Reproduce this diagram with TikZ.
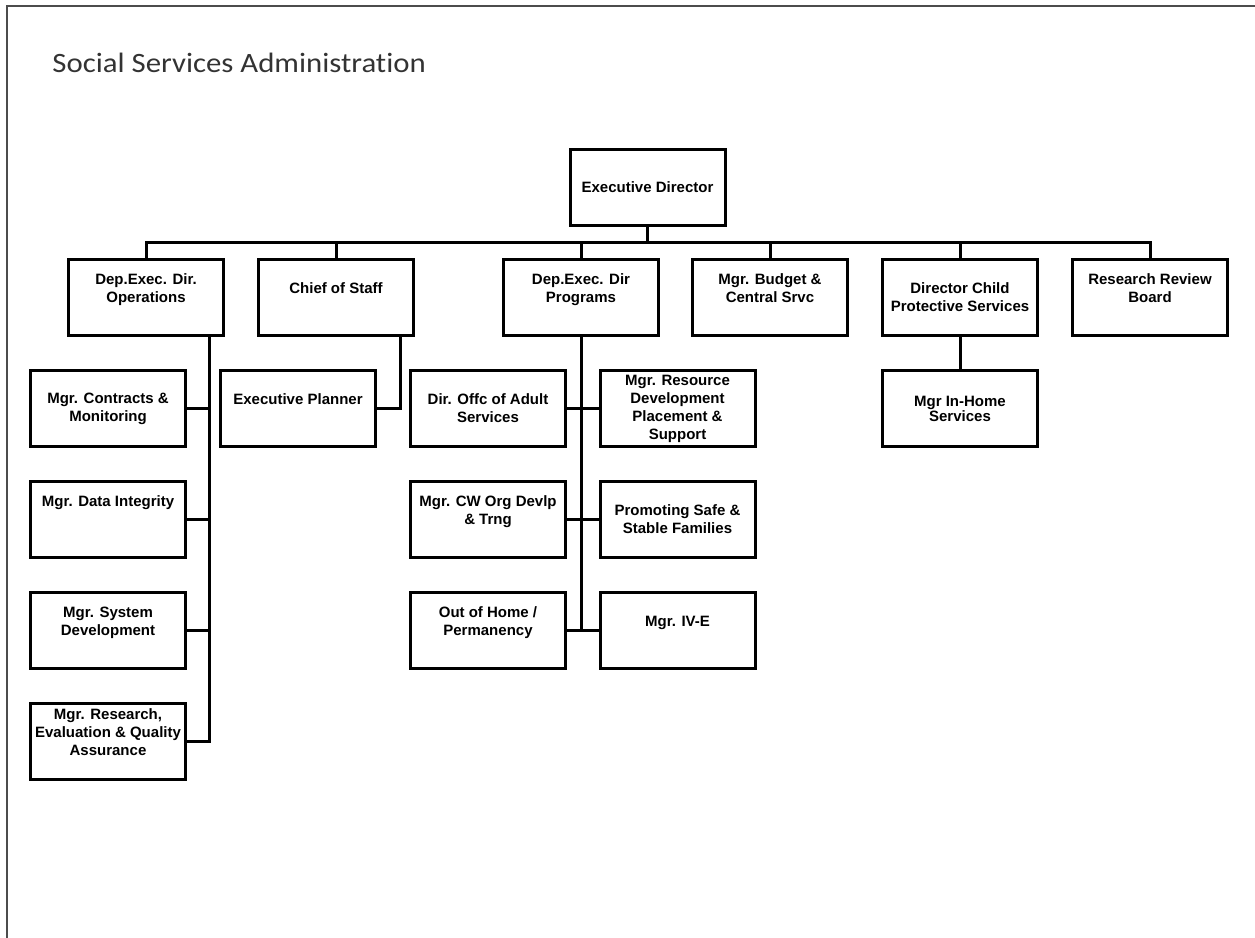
\documentclass[tikz,border=0pt]{standalone}
\usepackage{fontspec}
\setmainfont{Liberation Sans}
\newfontfamily\titlefont[FakeStretch=1.1,Ligatures=NoCommon]{Carlito}
\usetikzlibrary{positioning}
\tikzstyle{box} = [draw, line width=1.5pt, minimum width=77.5pt, minimum height=38pt, inner sep=1pt, align=center, font=\bfseries\fontsize{7.5}{9}\selectfont]
\tikzstyle{link} = [line width=1.5pt]
\def\blank{\\\mbox{}}

\begin{document}
\begin{tikzpicture}[x=0.5pt,y=-0.5pt,node distance=16pt]
\useasboundingbox (0,0) rectangle (1255,938);
\draw[black!70, line width=1pt] (7,938) -- (7,6) -- (1255,6);
\node[anchor=base west, inner sep=0pt, font=\titlefont\fontsize{14}{16}\selectfont, text=black!80] (title) at (52,72) {Social Services Administration};
% top levels
\node[box] (exec) at (647.5,187.5) {Executive Director};
\node[box] (ops) at (146,297.5) {Dep.Exec. Dir.\\Operations\blank};
\node[box] (chief) at (336,297.5) {Chief of Staff\blank};
\node[box] (prog) at (581,297.5) {Dep.Exec. Dir\\Programs\blank};
\node[box] (budget) at (770,297.5) {Mgr. Budget \&\\Central Srvc\blank};
\node[box] (cps) at (960,297.5) {Director Child\\Protective Services};
\node[box] (board) at (1150,297.5) {Research Review\\Board\blank};
% operations
\node[box] (contracts) at (108,408.5) {Mgr. Contracts \&\\Monitoring};
\node[box, below=of contracts] (integrity) {Mgr. Data Integrity\blank\blank};
\node[box, below=of integrity] (sysdev) {Mgr. System\\Development\blank};
\node[box, below=of sysdev] (research) {Mgr. Research,\\Evaluation \& Quality\\Assurance\blank};
% chief of staff
\node[box] (planner) at (298,408.5) {Executive Planner\blank};
% programs
\node[box] (adult) at (488,408.5) {Dir. Offc of Adult\\Services};
\node[box, below=of adult] (cworg) {Mgr. CW Org Devlp\\\& Trng\blank};
\node[box, below=of cworg] (outhome) {Out of Home /\\Permanency\blank};
\node[box] (resource) at (677.5,408.5) {Mgr. Resource\\Development\\Placement \&\\Support};
\node[box, below=of resource] (safe) {Promoting Safe \&\\Stable Families};
\node[box, below=of safe] (ive) {Mgr. IV-E\blank};
% child protective services
\node[box] (inhome) at (960,408.5) {Mgr In-Home\\[-1.5pt]Services};

\coordinate (bus) at (0,242);
\draw[link] (ops.north) |- (exec.south |- bus) -| (board.north);
\draw[link] (exec.south) -- (exec.south |- bus);
\foreach \n in {chief,prog,budget,cps}
  \draw[link] (\n.north) -- (\n.north |- bus);

\coordinate (opsspine) at ([xshift=31.5pt]ops.south);
\draw[link] (opsspine) |- (research.east);
\foreach \n in {contracts,integrity,sysdev}
  \draw[link] (\n.east) -- (\n.east -| opsspine);

\coordinate (chiefspine) at ([xshift=32pt]chief.south);
\draw[link] (chiefspine) |- (planner.east);

\draw[link] (prog.south) -- (prog.south |- outhome.east);
\foreach \a/\b in {adult/resource,cworg/safe,outhome/ive}
  \draw[link] (\a.east) -- (\b.west);

\draw[link] (cps.south) -- (inhome.north);
\end{tikzpicture}
\end{document}
